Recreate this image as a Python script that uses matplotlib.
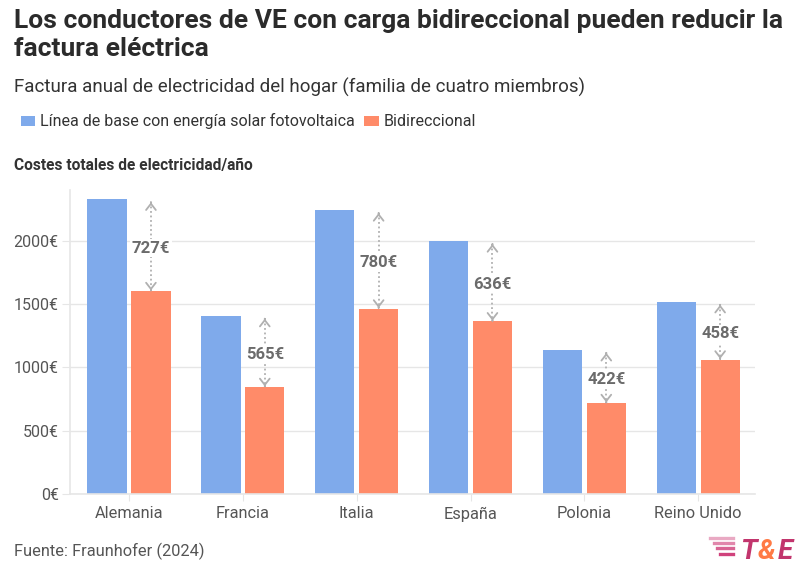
import numpy as np
import matplotlib.pyplot as plt
from matplotlib.patches import Patch

plt.rcParams['font.family'] = ['Roboto', 'DejaVu Sans']

# Data
paises = ['Alemania', 'Francia', 'Italia', 'España', 'Polonia', 'Reino Unido']
base_solar = [2330, 1410, 2245, 2000, 1140, 1520]
bidireccional = [1603, 845, 1465, 1364, 718, 1062]
ahorro = ['727€', '565€', '780€', '636€', '422€', '458€']
yticks = [0, 500, 1000, 1500, 2000]

c_blue = '#7faaeb'
c_orange = '#ff8b69'
c_grid = '#e6e6e6'
c_text = '#555555'

fig = plt.figure(figsize=(8.12, 5.73), dpi=100)
ax = fig.add_axes([0.086, 0.138, 0.844, 0.530])

x = np.arange(len(paises))
w = 0.345
ax.bar(x - w / 2 - 0.02, base_solar, w, color=c_blue, zorder=2)
ax.bar(x + w / 2 + 0.02, bidireccional, w, color=c_orange, zorder=2)

# difference arrows
for i in range(len(paises)):
    xo = x[i] + w / 2 + 0.02
    top = base_solar[i] - 25
    bot = bidireccional[i] + 5
    ax.plot([xo, xo], [top, bot], color='#b0b0b0', lw=1.3, ls=(0, (1, 1.5)), zorder=3)
    for yy, d in [(top, 1), (bot, -1)]:
        ax.annotate('', xy=(xo, yy), xytext=(xo, yy - d * 1),
                    arrowprops=dict(arrowstyle='->,head_length=0.45,head_width=0.35',
                                    color='#b0b0b0', lw=1.3), zorder=3)
    ax.text(xo, (top + bot) / 2 - 15, ahorro[i], ha='center', va='center',
            fontsize=12, fontweight='bold', color='#6b6b6b', zorder=4,
            bbox=dict(boxstyle='square,pad=0.1', fc='white', ec='none'))

ax.set_xlim(-0.52, 5.5)
ax.set_ylim(0, 2400)
ax.set_yticks(yticks)
ax.set_yticklabels([f'{v}€' for v in yticks])
ax.set_xticks(x)
ax.set_xticklabels(paises)
ax.grid(axis='y', color=c_grid, lw=1, zorder=0)
ax.tick_params(axis='y', length=6, color=c_grid, labelsize=11.5, labelcolor=c_text, pad=2)
ax.tick_params(axis='x', length=5, color=c_grid, labelsize=11.8, labelcolor=c_text, pad=4)
for s in ['top', 'right']:
    ax.spines[s].set_visible(False)
for s in ['left', 'bottom']:
    ax.spines[s].set_color(c_grid)
    ax.spines[s].set_linewidth(1.2)

# titles
fig.text(0.017, 0.985, 'Los conductores de VE con carga bidireccional pueden reducir la\nfactura eléctrica',
         fontsize=19, fontweight='bold', color='#2b2b2b', va='top', linespacing=1.25)
fig.text(0.017, 0.848, 'Factura anual de electricidad del hogar (familia de cuatro miembros)',
         fontsize=13.5, color='#333333', va='center')
handles = [Patch(facecolor=c_blue, edgecolor='none'), Patch(facecolor=c_orange, edgecolor='none')]
fig.legend(handles, ['Línea de base con energía solar fotovoltaica', 'Bidireccional'],
           loc='center left', bbox_to_anchor=(0.008, 0.788), ncol=2, frameon=False,
           fontsize=11.5, handlelength=0.9, handleheight=0.6, handletextpad=0.3,
           columnspacing=0.6, labelcolor='#333333')
fig.text(0.017, 0.712, 'Costes totales de electricidad/año', fontsize=11.2,
         fontweight='bold', color='#333333', va='center')
fig.text(0.017, 0.038, 'Fuente: Fraunhofer (2024)', fontsize=11.8, color=c_text, va='center')

# logo
for k in range(4):
    fig.add_artist(plt.Line2D([0.875 + 0.004 * k, 0.903], [0.061 - 0.009 * k] * 2,
                              transform=fig.transFigure, color='#d0407a', lw=2.4,
                              alpha=0.45 + 0.18 * k))
fig.text(0.911, 0.038, 'T', fontsize=20, fontweight='bold', style='italic', color='#c2356d', va='center')
fig.text(0.933, 0.038, '&', fontsize=20, fontweight='bold', style='italic', color='#ff7a45', va='center')
fig.text(0.958, 0.038, 'E', fontsize=20, fontweight='bold', style='italic', color='#c2356d', va='center')

fig.savefig('out.png', dpi=100)
